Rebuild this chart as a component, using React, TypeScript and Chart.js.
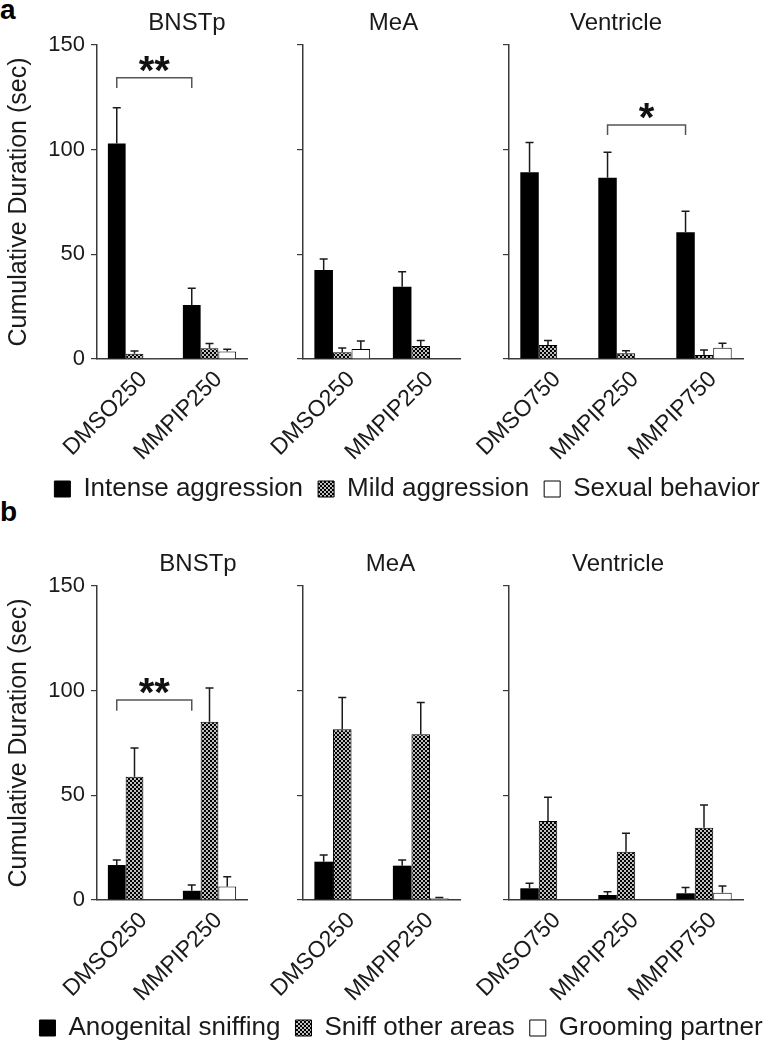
import React, { useEffect, useRef } from "react";
import { Chart, registerables } from "chart.js";

Chart.register(...registerables);

const FONT = '"Liberation Sans", Arial, Helvetica, sans-serif';
const INK = "#1a1a1a";
const AXIS = "#3a3a3a";

// ---------- categories & tick labels ----------
const bnstpGroups = ["DMSO250", "MMPIP250"];
const meaGroups = ["DMSO250", "MMPIP250"];
const ventricleGroups = ["DMSO750", "MMPIP250", "MMPIP750"];
const yTickValues = [0, 50, 100, 150];
const yAxisTitle = "Cumulative Duration (sec)";

const aSeries = ["Intense aggression", "Mild aggression", "Sexual behavior"];
const bSeries = ["Anogenital sniffing", "Sniff other areas", "Grooming partner"];

// ---------- panel a values (mean, SEM) ----------
const aBNSTpIntense = [103.0, 25.8];
const aBNSTpIntenseErr = [17.0, 8.0];
const aBNSTpMild = [2.5, 5.1];
const aBNSTpMildErr = [1.3, 2.3];
const aBNSTpSexual = [0.4, 3.6];
const aBNSTpSexualErr = [0, 1.0];

const aMeAIntense = [42.5, 34.5];
const aMeAIntenseErr = [5.3, 7.2];
const aMeAMild = [3.2, 6.2];
const aMeAMildErr = [2.0, 2.6];
const aMeASexual = [4.8, 0];
const aMeASexualErr = [3.8, 0];

const aVentIntense = [89.2, 86.6, 60.5];
const aVentIntenseErr = [14.2, 12.2, 10.1];
const aVentMild = [6.7, 2.7, 1.9];
const aVentMildErr = [2.1, 1.3, 2.4];
const aVentSexual = [0, 0, 5.4];
const aVentSexualErr = [0, 0, 2.1];

// ---------- panel b values (mean, SEM) ----------
const bBNSTpAnogenital = [16.7, 4.4];
const bBNSTpAnogenitalErr = [2.4, 2.8];
const bBNSTpSniff = [58.9, 85.2];
const bBNSTpSniffErr = [13.7, 16.1];
const bBNSTpGroom = [0, 6.4];
const bBNSTpGroomErr = [0, 4.7];

const bMeAAnogenital = [18.3, 16.4];
const bMeAAnogenitalErr = [3.2, 2.7];
const bMeASniff = [81.6, 79.2];
const bMeASniffErr = [15.1, 15.1];
const bMeAGroom = [0, 0.8];
const bMeAGroomErr = [0, 0.4];

const bVentAnogenital = [5.6, 2.4, 3.2];
const bVentAnogenitalErr = [2.4, 1.6, 2.8];
const bVentSniff = [37.7, 23.1, 34.5];
const bVentSniffErr = [11.4, 8.8, 10.9];
const bVentGroom = [0, 0, 3.5];
const bVentGroomErr = [0, 0, 3.2];

// ---------- significance brackets: [fromGroup, toGroup, top value, tick-end value] ----------
const aBNSTpBracket = [0, 1, 134.3, 129.5];
const aBNSTpMark = "**";
const aVentBracket = [1, 2, 111.8, 107.0];
const aVentMark = "*";
const bBNSTpBracket = [0, 1, 95.6, 90.4];
const bBNSTpMark = "**";

// ---------- fills ----------
function makeChecker(): CanvasPattern | string {
  const c = document.createElement("canvas");
  c.width = 4;
  c.height = 4;
  const g = c.getContext("2d");
  if (!g) return "#555";
  g.fillStyle = "#000";
  g.fillRect(0, 0, 4, 4);
  g.fillStyle = "#fff";
  g.beginPath();
  g.arc(1, 1, 1, 0, Math.PI * 2);
  g.arc(3, 3, 1, 0, Math.PI * 2);
  g.fill();
  const p = g.createPattern(c, "repeat");
  return p || "#555";
}

// ---------- plugins ----------
const errorBarPlugin = {
  id: "errorBars",
  afterDatasetsDraw(chart: any) {
    const { ctx } = chart;
    const y = chart.scales.y;
    ctx.save();
    ctx.strokeStyle = "#1a1a1a";
    ctx.lineWidth = 1.5;
    chart.data.datasets.forEach((ds: any, i: number) => {
      const meta = chart.getDatasetMeta(i);
      const errs = ds.errors || [];
      meta.data.forEach((bar: any, j: number) => {
        const e = errs[j];
        const v = ds.data[j];
        if (!e) return;
        const y0 = y.getPixelForValue(v);
        const y1 = y.getPixelForValue(v + e);
        ctx.beginPath();
        ctx.moveTo(bar.x, y0);
        ctx.lineTo(bar.x, y1);
        ctx.moveTo(bar.x - 4, y1);
        ctx.lineTo(bar.x + 4, y1);
        ctx.stroke();
      });
    });
    ctx.restore();
  },
};

const bracketPlugin = {
  id: "bracket",
  afterDatasetsDraw(chart: any, _args: any, opts: any) {
    if (!opts || !opts.span) return;
    const [from, to, top, drop] = opts.span;
    const meta = chart.getDatasetMeta(0);
    const x0 = meta.data[from].x;
    const x1 = meta.data[to].x;
    const y = chart.scales.y;
    const yt = y.getPixelForValue(top);
    const yd = y.getPixelForValue(drop);
    const { ctx } = chart;
    ctx.save();
    ctx.strokeStyle = "#555";
    ctx.lineWidth = 1.5;
    ctx.beginPath();
    ctx.moveTo(x0, yd);
    ctx.lineTo(x0, yt);
    ctx.lineTo(x1, yt);
    ctx.lineTo(x1, yd);
    ctx.stroke();
    ctx.fillStyle = "#111";
    ctx.font = `bold 40px ${FONT}`;
    ctx.textAlign = "center";
    ctx.textBaseline = "alphabetic";
    ctx.fillText(opts.mark, (x0 + x1) / 2, yt + 6);
    ctx.restore();
  },
};

const regionTitlePlugin = {
  id: "regionTitle",
  afterDraw(chart: any, _args: any, opts: any) {
    if (!opts || !opts.text) return;
    const { ctx, chartArea } = chart;
    ctx.save();
    ctx.font = `24px ${FONT}`;
    ctx.fillStyle = INK;
    ctx.textAlign = "center";
    ctx.textBaseline = "alphabetic";
    ctx.fillText(opts.text, (chartArea.left + chartArea.right) / 2 + (opts.dx || 0), chartArea.top - 15);
    ctx.restore();
  },
};

type Series = { label: string; data: number[]; err: number[] };

type PanelProps = {
  left: number;
  top: number;
  width: number;
  height: number;
  labels: string[];
  series: Series[];
  yWidth: number;
  padTop: number;
  padRight: number;
  showY: boolean;
  title: string;
  titleDx: number;
  bracket?: number[];
  mark?: string;
};

const X_AXIS_HEIGHT = 115;

function BarPanel(p: PanelProps) {
  const ref = useRef<HTMLCanvasElement | null>(null);
  useEffect(() => {
    if (!ref.current) return;
    const checker = makeChecker();
    const fills = ["#000", checker, "#fff"];
    const chart = new Chart(ref.current, {
      type: "bar",
      data: {
        labels: p.labels,
        datasets: p.series.map((s, i) => ({
          label: s.label,
          data: s.data,
          errors: s.err,
          backgroundColor: fills[i],
          borderColor: "#000",
          borderWidth: i === 0 ? 0 : 1,
          barPercentage: 1,
          categoryPercentage: 0.71,
        })) as any,
      },
      options: {
        animation: false,
        responsive: false,
        maintainAspectRatio: false,
        events: [],
        layout: { padding: { top: p.padTop, right: p.padRight, left: 0, bottom: 0 } },
        plugins: {
          legend: { display: false },
          tooltip: { enabled: false },
          title: { display: false },
          regionTitle: { text: p.title, dx: p.titleDx },
          bracket: p.bracket ? { span: p.bracket, mark: p.mark } : {},
        } as any,
        scales: {
          x: {
            type: "category",
            grid: { display: false, drawTicks: false },
            border: { display: true, color: AXIS, width: 1.5 },
            ticks: {
              font: { size: 23, family: FONT },
              color: INK,
              maxRotation: 45,
              minRotation: 45,
              autoSkip: false,
              padding: 7,
              labelOffset: 9,
            },
            afterFit: (s: any) => {
              s.height = X_AXIS_HEIGHT;
            },
          },
          y: {
            min: 0,
            max: 150,
            afterBuildTicks: (s: any) => {
              s.ticks = yTickValues.map((v) => ({ value: v }));
            },
            ticks: {
              display: p.showY,
              font: { size: 22, family: FONT },
              color: INK,
              padding: 6,
            },
            grid: {
              drawOnChartArea: false,
              drawTicks: true,
              tickLength: 6,
              color: AXIS,
              lineWidth: 1.2,
            },
            border: { display: true, color: AXIS, width: 1.5 },
            title: {
              display: p.showY,
              text: yAxisTitle,
              font: { size: 25, family: FONT },
              color: INK,
              padding: { top: 4, bottom: 0 },
            },
            afterFit: (s: any) => {
              s.width = p.yWidth;
            },
          },
        } as any,
      },
      plugins: [errorBarPlugin, bracketPlugin, regionTitlePlugin],
    } as any);
    return () => chart.destroy();
  }, []);
  return (
    <canvas
      ref={ref}
      width={p.width}
      height={p.height}
      style={{ position: "absolute", left: p.left, top: p.top, width: p.width, height: p.height }}
    />
  );
}

function LegendStrip(p: { top: number; width: number; padTop: number; labels: string[] }) {
  const ref = useRef<HTMLCanvasElement | null>(null);
  const height = 140;
  useEffect(() => {
    if (!ref.current) return;
    const checker = makeChecker();
    const fills = ["#000", checker, "#fff"];
    const chart = new Chart(ref.current, {
      type: "bar",
      data: {
        labels: [],
        datasets: p.labels.map((l, i) => ({
          label: l,
          data: [],
          backgroundColor: fills[i],
          borderColor: "#000",
          borderWidth: 1,
        })) as any,
      },
      options: {
        animation: false,
        responsive: false,
        maintainAspectRatio: false,
        events: [],
        layout: { padding: { left: 0, top: p.padTop, right: 0, bottom: 0 } },
        scales: { x: { display: false }, y: { display: false } },
        plugins: {
          tooltip: { enabled: false },
          legend: {
            display: true,
            position: "top",
            maxHeight: 120,
            labels: {
              font: { size: 26, family: FONT },
              color: INK,
              boxWidth: 16,
              boxHeight: 16,
              padding: 15,
            },
          },
        },
      } as any,
    } as any);
    return () => chart.destroy();
  }, []);
  return (
    <canvas
      ref={ref}
      width={p.width}
      height={height}
      style={{ position: "absolute", left: 0, top: p.top, width: p.width, height }}
    />
  );
}

const letterStyle: React.CSSProperties = {
  position: "absolute",
  left: 0,
  fontFamily: FONT,
  fontWeight: "bold",
  fontSize: 28,
  lineHeight: "28px",
  color: "#000",
};

export default function App() {
  const aTop = 0;
  const bTop = 540;
  // chart-area bottoms: panel a at y=359, panel b at y=900
  const aHeight = 359 - aTop + X_AXIS_HEIGHT;
  const bHeight = 900 - bTop + X_AXIS_HEIGHT;
  return (
    <div
      style={{
        position: "absolute",
        left: 0,
        top: 0,
        width: 770,
        height: 1046,
        overflow: "hidden",
        background: "#fff",
      }}
    >
      <div style={{ ...letterStyle, top: -4 }}>a</div>
      <div style={{ ...letterStyle, top: 498 }}>b</div>

      <LegendStrip top={455} width={814} padTop={6} labels={aSeries} />
      <LegendStrip top={995} width={802} padTop={5} labels={bSeries} />

      {/* panel a */}
      <BarPanel
        left={0} top={aTop} width={250} height={aHeight}
        labels={bnstpGroups}
        series={[
          { label: aSeries[0], data: aBNSTpIntense, err: aBNSTpIntenseErr },
          { label: aSeries[1], data: aBNSTpMild, err: aBNSTpMildErr },
          { label: aSeries[2], data: aBNSTpSexual, err: aBNSTpSexualErr },
        ]}
        yWidth={97} padTop={45} padRight={3} showY={true}
        title="BNSTp" titleDx={15}
        bracket={aBNSTpBracket} mark={aBNSTpMark}
      />
      <BarPanel
        left={225} top={aTop} width={237} height={aHeight}
        labels={meaGroups}
        series={[
          { label: aSeries[0], data: aMeAIntense, err: aMeAIntenseErr },
          { label: aSeries[1], data: aMeAMild, err: aMeAMildErr },
          { label: aSeries[2], data: aMeASexual, err: aMeASexualErr },
        ]}
        yWidth={78} padTop={45} padRight={2} showY={false}
        title="MeA" titleDx={12}
      />
      <BarPanel
        left={430} top={aTop} width={340} height={aHeight}
        labels={ventricleGroups}
        series={[
          { label: aSeries[0], data: aVentIntense, err: aVentIntenseErr },
          { label: aSeries[1], data: aVentMild, err: aVentMildErr },
          { label: aSeries[2], data: aVentSexual, err: aVentSexualErr },
        ]}
        yWidth={79} padTop={45} padRight={27} showY={false}
        title="Ventricle" titleDx={-10}
        bracket={aVentBracket} mark={aVentMark}
      />

      {/* panel b */}
      <BarPanel
        left={0} top={bTop} width={250} height={bHeight}
        labels={bnstpGroups}
        series={[
          { label: bSeries[0], data: bBNSTpAnogenital, err: bBNSTpAnogenitalErr },
          { label: bSeries[1], data: bBNSTpSniff, err: bBNSTpSniffErr },
          { label: bSeries[2], data: bBNSTpGroom, err: bBNSTpGroomErr },
        ]}
        yWidth={97} padTop={46} padRight={3} showY={true}
        title="BNSTp" titleDx={26}
        bracket={bBNSTpBracket} mark={bBNSTpMark}
      />
      <BarPanel
        left={225} top={bTop} width={237} height={bHeight}
        labels={meaGroups}
        series={[
          { label: bSeries[0], data: bMeAAnogenital, err: bMeAAnogenitalErr },
          { label: bSeries[1], data: bMeASniff, err: bMeASniffErr },
          { label: bSeries[2], data: bMeAGroom, err: bMeAGroomErr },
        ]}
        yWidth={78} padTop={46} padRight={2} showY={false}
        title="MeA" titleDx={9}
      />
      <BarPanel
        left={430} top={bTop} width={340} height={bHeight}
        labels={ventricleGroups}
        series={[
          { label: bSeries[0], data: bVentAnogenital, err: bVentAnogenitalErr },
          { label: bSeries[1], data: bVentSniff, err: bVentSniffErr },
          { label: bSeries[2], data: bVentGroom, err: bVentGroomErr },
        ]}
        yWidth={79} padTop={46} padRight={27} showY={false}
        title="Ventricle" titleDx={-8}
      />
    </div>
  );
}
